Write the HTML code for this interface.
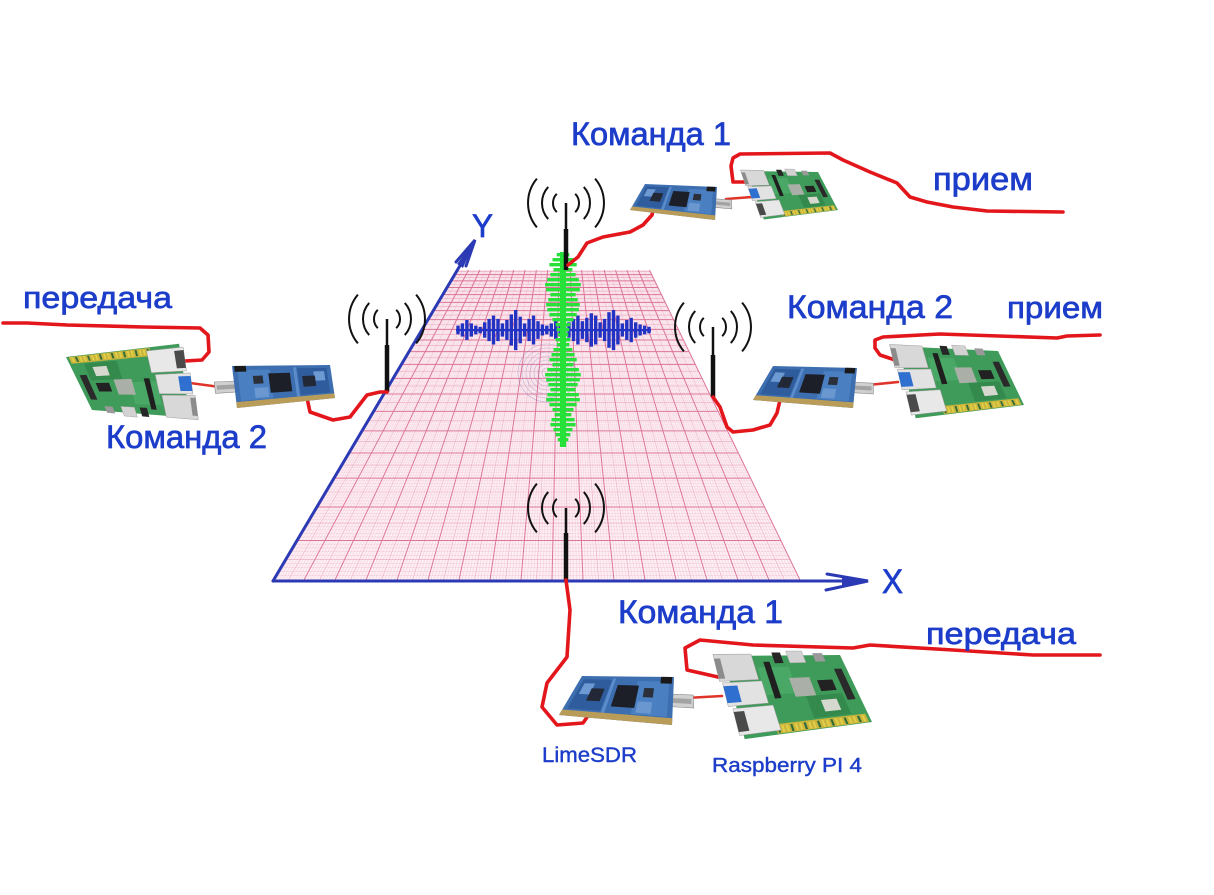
<!DOCTYPE html>
<html><head><meta charset="utf-8"><style>
html,body{margin:0;padding:0;background:#fff;}
svg{display:block}
text{font-family:"Liberation Sans","DejaVu Sans",sans-serif;fill:#1c3dc9;stroke:#1c3dc9;stroke-width:0.7}
</style></head><body>
<svg id="s" width="1214" height="895" viewBox="0 0 1214 895" xmlns="http://www.w3.org/2000/svg">
<defs>
 <g id="ant" fill="none" stroke="#111" stroke-width="2">
  <path d="M-29.1 -24.4A38 38 0 0 0 -29.1 24.4M29.1 -24.4A38 38 0 0 1 29.1 24.4M-17.8 -16.1A24 24 0 0 0 -17.8 16.1M17.8 -16.1A24 24 0 0 1 17.8 16.1M-9.2 -9.2A13 13 0 0 0 -9.2 9.2M9.2 -9.2A13 13 0 0 1 9.2 9.2"/>
 </g>
 <linearGradient id="vg" gradientUnits="userSpaceOnUse" x1="0" y1="270" x2="0" y2="580">
  <stop offset="0" stop-color="#f2c4d3" stop-opacity="0.35"/>
  <stop offset="1" stop-color="#f2c4d3" stop-opacity="1"/>
 </linearGradient>
 <linearGradient id="vg2" gradientUnits="userSpaceOnUse" x1="0" y1="270" x2="0" y2="580">
  <stop offset="0" stop-color="#e9a3ba" stop-opacity="0.6"/>
  <stop offset="1" stop-color="#e9a3ba" stop-opacity="1"/>
 </linearGradient>
</defs>
<rect width="1214" height="895" fill="#fff"/>
<polygon points="273,580 800,580 650,270 457,270" fill="#fdeff4"/>
<g id="grid"></g>
<g fill="none" stroke="#8a8cc4" stroke-width="0.6" opacity="0.55">
 <circle cx="547" cy="373" r="5"/><circle cx="547" cy="373" r="9"/><circle cx="547" cy="373" r="13"/><circle cx="547" cy="373" r="17"/><circle cx="547" cy="373" r="21"/><circle cx="547" cy="373" r="25"/><circle cx="547" cy="373" r="29"/>
</g>
<g id="wave"></g>

<!-- axes -->
<g stroke="#2b3ab4" stroke-width="3" stroke-linecap="round" fill="none">
 <line x1="273" y1="581" x2="866" y2="581"/>
 <line x1="273" y1="581" x2="474" y2="242"/>
 <path d="M827 574 L868 581 L826 590"/>
 <path d="M466 266 L475 240 L456 262"/>
</g>
<polygon points="842,576 868,581 842,587" fill="#2b3ab4"/>
<polygon points="463,268 475,240 457,264" fill="#2b3ab4"/>

<!-- antennas -->
<use href="#ant" x="566" y="203"/>
<use href="#ant" x="387" y="319"/>
<use href="#ant" x="713" y="327"/>
<use href="#ant" x="566" y="508"/>
<g stroke="#111" stroke-linecap="butt">
 <line x1="566" y1="203" x2="566" y2="229" stroke-width="2.5"/>
 <line x1="566" y1="229" x2="566" y2="270" stroke-width="4.5"/>
 <line x1="387" y1="319" x2="387" y2="345" stroke-width="2.5"/>
 <line x1="387" y1="345" x2="387" y2="392" stroke-width="4.5"/>
 <line x1="713" y1="327" x2="713" y2="355" stroke-width="2.5"/>
 <line x1="713" y1="355" x2="713" y2="397" stroke-width="4.5"/>
 <line x1="566" y1="508" x2="566" y2="533" stroke-width="2.5"/>
 <line x1="566" y1="533" x2="566" y2="580" stroke-width="4.5"/>
</g>

<!-- cables -->
<g fill="none" stroke="#e3161c" stroke-width="3.6" stroke-linecap="round" stroke-linejoin="round">
 <path d="M568 265 L578 257 L587 243 L603 237 L630 232 L643 225 L652 215 L653 210"/>
 <path d="M746 182 L733 182 L731 166 L733 158 L740 154 L830 153 L843 160 L870 172 L897 183 L910 197 L927 202 L953 207 L987 211 L1063 212"/>
 <path d="M713 397 L720 407 L727 427 L733 432 L753 430 L770 425 L777 413 L780 400"/>
 <path d="M895 360 L880 355 L875 348 L875 340 L883 337 L940 334 L1057 338 L1067 336 L1100 335"/>
 <path d="M387 392 L380 392 L367 395 L350 417 L333 420 L310 412 L307 398"/>
 <path d="M185 361 L202 360 L209 352 L208 335 L200 328 L143 327 L67 325 L27 323 L3 323"/>
 <path d="M566 580 L570 610 L567 657 L547 683 L542 707 L557 725 L583 723 L590 713"/>
 <path d="M718 677 L687 670 L685 648 L700 640 L753 645 L853 648 L870 645 L953 650 L1033 655 L1100 655"/>
</g>
<g fill="none" stroke="#e0342a" stroke-width="2.6" stroke-linecap="round">
 <path d="M726 199 L752 197"/>
 <path d="M868 385 L898 382"/>
 <path d="M220 387 L190 383"/>
 <path d="M686 698 L722 696"/>
</g>
<g id="boards"></g>

<!-- texts -->
<text x="571" y="145" font-size="32" textLength="160" lengthAdjust="spacingAndGlyphs">Команда 1</text>
<text x="933" y="190" font-size="32" textLength="100" lengthAdjust="spacingAndGlyphs">прием</text>
<text x="23" y="308" font-size="31" textLength="149" lengthAdjust="spacingAndGlyphs">передача</text>
<text x="106" y="448" font-size="32" textLength="161" lengthAdjust="spacingAndGlyphs">Команда 2</text>
<text x="787" y="318" font-size="32" textLength="166" lengthAdjust="spacingAndGlyphs">Команда 2</text>
<text x="1007" y="318" font-size="31" textLength="96" lengthAdjust="spacingAndGlyphs">прием</text>
<text x="618" y="623" font-size="32" textLength="165" lengthAdjust="spacingAndGlyphs">Команда 1</text>
<text x="926" y="644" font-size="31" textLength="150" lengthAdjust="spacingAndGlyphs">передача</text>
<text x="542" y="762" font-size="21" textLength="95" lengthAdjust="spacingAndGlyphs" style="stroke-width:0.4">LimeSDR</text>
<text x="712" y="772" font-size="20" textLength="150" lengthAdjust="spacingAndGlyphs" style="stroke-width:0.4">Raspberry PI 4</text>
<text x="882" y="593" font-size="34" textLength="21" lengthAdjust="spacingAndGlyphs">X</text>
<text x="472" y="237" font-size="32" textLength="21" lengthAdjust="spacingAndGlyphs">Y</text>
</svg>
<script>
(function(){
var NS="http://www.w3.org/2000/svg";
function mk(tag,attrs,parent){var e=document.createElementNS(NS,tag);for(var k in attrs)e.setAttribute(k,attrs[k]);parent.appendChild(e);return e;}
// grid
var g=document.getElementById('grid');
var VX=563,VY=92,YB=580,YT=270,XL=273,XR=800,H=YB-VY;
function xAt(xb,y){return VX+(xb-VX)*(y-VY)/H;}
var d1='',d2='',d3='';
var NC=170;
for(var i=0;i<=NC;i++){var xb=XL+(XR-XL)*i/NC;var s='M'+xb.toFixed(2)+' '+YB+'L'+xAt(xb,YT).toFixed(2)+' '+YT;if(i%10==0)d3+=s;else if(i%5==0)d2+=s;else d1+=s;}
mk('path',{d:d1,stroke:'url(#vg)','stroke-width':0.45,fill:'none'},g);
mk('path',{d:d2,stroke:'url(#vg2)','stroke-width':0.6,fill:'none'},g);
var T=H/(YT-VY)-1,DT=0.0088;
var d4='';
for(var j=0;j*DT<=T+1e-6;j++){var t=j*DT;var y=VY+H/(1+t);var sp=H/((1+t)*(1+t))*DT;
 var s2='M'+xAt(XL,y).toFixed(2)+' '+y.toFixed(2)+'L'+xAt(XR,y).toFixed(2)+' '+y.toFixed(2);
 if(j%10==0)d3+=s2;else if(j%5==0)d4+=s2;else{mk('path',{d:s2,stroke:'#f2c4d3','stroke-width':0.45,'stroke-opacity':Math.min(1,sp/3.5).toFixed(2),fill:'none'},g);}}
mk('path',{d:d4,stroke:'#e9a3ba','stroke-width':0.6,fill:'none'},g);
mk('path',{d:d3,stroke:'#dc7597','stroke-width':1,fill:'none'},g);
// waves
var w=document.getElementById('wave');
mk('rect',{x:456,y:329,width:195,height:2.2,fill:'#2233c4'},w);
var bh=[3,5,8,5,3,2,6,9,12,9,5,8,13,17,11,5,9,12,7,4,3,5,7,5,4,6,9,12,7,10,14,12,6,9,15,17,12,5,8,10,6,4,3,2];
for(var i=0;i<bh.length;i++){var x=458+i*(191/(bh.length-1));var h=bh[i]*1.12+1;mk('rect',{x:(x-1.7).toFixed(1),y:(330-h).toFixed(1),width:3.4,height:(h*2).toFixed(1),fill:'#2233c4'},w);}
mk('rect',{x:560,y:252,width:6,height:195,fill:'#27e03a'},w);
var gw=[6,10,13,9,12,15,17,16,12,14,16,15,13,10,7,6,5,7,6,9,11,13,10,15,17,16,14,12,15,16,13,10,8,11,12,9,7,5,3];
for(var i=0;i<gw.length;i++){var y=253+i*5;var ww=gw[i]*1.05;mk('rect',{x:(563-ww).toFixed(1),y:y,width:(ww*2).toFixed(1),height:3.4,fill:'#27e03a'},w);}
// boards
var B=document.getElementById('boards');
function Q(c,u,v){var tx=c[0][0]+(c[1][0]-c[0][0])*u,ty=c[0][1]+(c[1][1]-c[0][1])*u;var bx=c[3][0]+(c[2][0]-c[3][0])*u,by=c[3][1]+(c[2][1]-c[3][1])*u;return [tx+(bx-tx)*v,ty+(by-ty)*v];}
function R(c,u0,v0,u1,v1,fill,ex){var p=[Q(c,u0,v0),Q(c,u1,v0),Q(c,u1,v1),Q(c,u0,v1)];var a={points:p.map(function(q){return q[0].toFixed(1)+','+q[1].toFixed(1);}).join(' '),fill:fill};if(ex)for(var k in ex)a[k]=ex[k];return mk('polygon',a,B);}
function lime(c){
 R(c,0.96,0.36,1.2,0.62,'#d0d0d0',{stroke:'#8a8a8a','stroke-width':0.6});
 R(c,1.0,0.44,1.18,0.54,'#a3a3a3');
 R(c,0,0,1,1,'#3d6fb0');
 R(c,0.04,0.08,0.34,0.82,'#2f5c9c');
 R(c,0.62,0.1,0.95,0.84,'#4a80c2');
 R(c,0.07,0.18,0.18,0.45,'#6d9ad3');
 R(c,0.66,0.55,0.8,0.8,'#6a97d0');
 R(c,0.35,0.05,0.38,0.86,'#5b8ccc');
 R(c,0.42,0.2,0.64,0.7,'#1c1f28');
 R(c,0.17,0.3,0.3,0.6,'#232836');
 R(c,0.7,0.25,0.8,0.45,'#2a2f3a');
 R(c,0.86,0,0.98,0.14,'#1a1a1a');
 R(c,0,0.86,1,1,'#b99c58');
}
function pi(c){
 R(c,0.05,0,1,1,'#3f9b59');
 R(c,0.3,0.15,0.55,0.5,'#4aa866');
 R(c,0.6,0.55,0.88,0.85,'#348a4d');
 R(c,0.52,0.3,0.68,0.55,'#aab0a7');
 R(c,0.73,0.35,0.85,0.5,'#222');
 R(c,0.7,0.62,0.82,0.78,'#d6d8cf');
 R(c,0.36,0.08,0.41,0.55,'#1f1f1f');
 R(c,0.45,-0.04,0.52,0.1,'#262626');
 R(c,0.57,-0.06,0.7,0.1,'#d2d2d2',{stroke:'#999','stroke-width':0.4});
 R(c,0.78,-0.03,0.86,0.09,'#9a9a9a');
 R(c,0.9,0.2,0.96,0.65,'#2a2a2a');
 R(c,0.3,0.87,0.98,0.99,'#c9b43c');
 for(var i=0;i<20;i++){R(c,0.31+i*0.0335,0.89,0.326+i*0.0335,0.98,i%3==0?'#2f6b3a':'#e2cf48');}
 R(c,-0.03,-0.02,0.28,0.3,'#d8d8d8',{stroke:'#9a9a9a','stroke-width':0.5});
 R(c,-0.03,0.03,0.02,0.27,'#8c8c8c');
 R(c,-0.01,0.32,0.3,0.6,'#e2e2e2',{stroke:'#9a9a9a','stroke-width':0.5});
 R(c,-0.01,0.36,0.1,0.56,'#2f6fd0');
 R(c,0.02,0.63,0.33,0.95,'#e8e8e8',{stroke:'#9a9a9a','stroke-width':0.5});
 R(c,0.02,0.67,0.1,0.91,'#4a4a4a');
}
lime([[645,184],[717,187],[715,220],[630,210]]);
lime([[773,366],[857,368],[853,408],[753,400]]);
lime([[582,676],[674,677],[672,725],[559,715]]);
lime([[330,365],[232,366],[237,408],[335,398]]);
pi([[743,171],[818,172],[838,210],[760,220]]);
pi([[893,346],[998,351],[1024,405],[910,419]]);
pi([[717,656],[840,655],[872,722],[738,740]]);
pi([[195,418],[92,410],[66,357],[185,343]]);
})();
</script>
</body></html>
